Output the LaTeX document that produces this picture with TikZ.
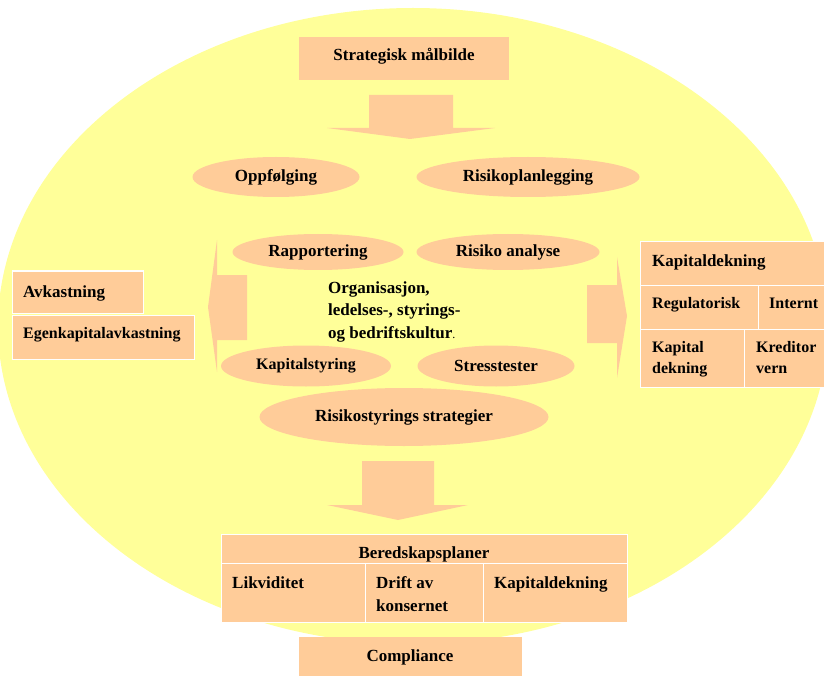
\documentclass[tikz,border=0pt]{standalone}
\usepackage{fontspec}
\setmainfont{Liberation Serif}
\usetikzlibrary{shapes.geometric}
\definecolor{peach}{HTML}{FFCC99}
\definecolor{lemon}{HTML}{FFFF99}

\begin{document}
\begin{tikzpicture}[x=1pt,y=-1pt,
  every node/.style={font=\bfseries\fontsize{17}{22.5}\selectfont,inner sep=0pt},
  oval/.style={ellipse,fill=peach},
  cell/.style={rectangle,fill=peach,draw=white,line width=1pt},
  small/.style={font=\bfseries\fontsize{16}{21}\selectfont},
  fat/.style={fill=peach}]
\useasboundingbox (0,0) rectangle (824,676);
\clip (0,0) rectangle (824,676);
\node [ellipse,fill=lemon,minimum width=830,minimum height=636] (world) at (413,326) {};

% top
\node [cell,draw=none,minimum width=210,minimum height=43] (maal) at (404,58.5) {};
\node [anchor=base] (maalT) at (404,61) {Strategisk målbilde};
\fill [fat] (369,95) -- (453,95) -- (453,128) -- (495,128) -- (410,139) -- (327,128) -- (369,128) -- cycle;

% ovals
\node [oval,minimum width=167,minimum height=40] (oppf) at (276,177) {Oppfølging};
\node [oval,minimum width=223,minimum height=40] (plan) at (528,177) {Risikoplanlegging};
\node [oval,minimum width=171,minimum height=36] (rapp) at (318,252) {Rapportering};
\node [oval,minimum width=183,minimum height=36] (anal) at (508,252) {Risiko analyse};
\node [oval,small,minimum width=170,minimum height=41] (kapst) at (306,366) {Kapitalstyring};
\node [oval,minimum width=157,minimum height=41] (stress) at (496,366) {Stresstester};
\node [oval,minimum width=289,minimum height=58] (strat) at (404,417) {Risikostyrings strategier};
% base = last line
\node [anchor=base west,align=left] (kultur) at (328,338) {Organisasjon,\\ledelses-, styrings-\\og bedriftskultur{\mdseries\fontsize{12}{14}\selectfont.}};

% side arrows
\fill [fat] (247,275) -- (217,275) -- (217,240) -- (208,307) -- (217,372) -- (217,340) -- (247,340) -- cycle;
\fill [fat] (587,285) -- (617,285) -- (617,257) -- (627,316) -- (617,378) -- (617,343) -- (587,343) -- cycle;

% left
\node [cell,minimum width=131,minimum height=42] (avk) at (77.5,292) {};
\node [cell,minimum width=182,minimum height=44] (egen) at (103,337) {};
\node [anchor=base west] (avkT) at (23,298) {Avkastning};
\node [small,anchor=base west] (egenT) at (23,338) {Egenkapitalavkastning};

% right
\node [cell,minimum width=184,minimum height=43] (kapd) at (732,263.5) {};
\node [cell,minimum width=118,minimum height=44] (reg) at (699,307) {};
\node [cell,minimum width=66,minimum height=44] (intern) at (791,307) {};
\node [cell,minimum width=104,minimum height=58] (kapdek) at (692,358) {};
\node [cell,minimum width=80,minimum height=58] (kred) at (784,358) {};
\node [anchor=base west] (kapdT) at (652,266) {Kapitaldekning};
\node [small,anchor=base west] (regT) at (652,308) {Regulatorisk};
\node [small,anchor=base west] (internT) at (769,308) {Internt};
\node [small,anchor=base west,align=left] (kapdekT) at (652,373) {Kapital\\dekning};
\node [small,anchor=base west,align=left] (kredT) at (756,373) {Kreditor\\vern};

% bottom
\fill [fat] (362,461) -- (434,461) -- (434,505) -- (468,505) -- (398,520) -- (327,505) -- (362,505) -- cycle;
\node [cell,minimum width=406,minimum height=29] (bered) at (424,548.5) {};
\node [cell,minimum width=144,minimum height=59] (likv) at (293,592.5) {};
\node [cell,minimum width=118,minimum height=59] (drift) at (424,592.5) {};
\node [cell,minimum width=144,minimum height=59] (kapd2) at (555,592.5) {};
\node [anchor=base] (beredT) at (424,558) {Beredskapsplaner};
\node [anchor=base west] (likvT) at (232,588) {Likviditet};
\node [anchor=base west,align=left] (driftT) at (376,611) {Drift av\\konsernet};
\node [anchor=base west] (kapd2T) at (494,588) {Kapitaldekning};
\node [cell,draw=none,minimum width=223,minimum height=45] (compl) at (410.5,659.5) {};
\node [anchor=base] (complT) at (410,661) {Compliance};
\end{tikzpicture}
\end{document}
